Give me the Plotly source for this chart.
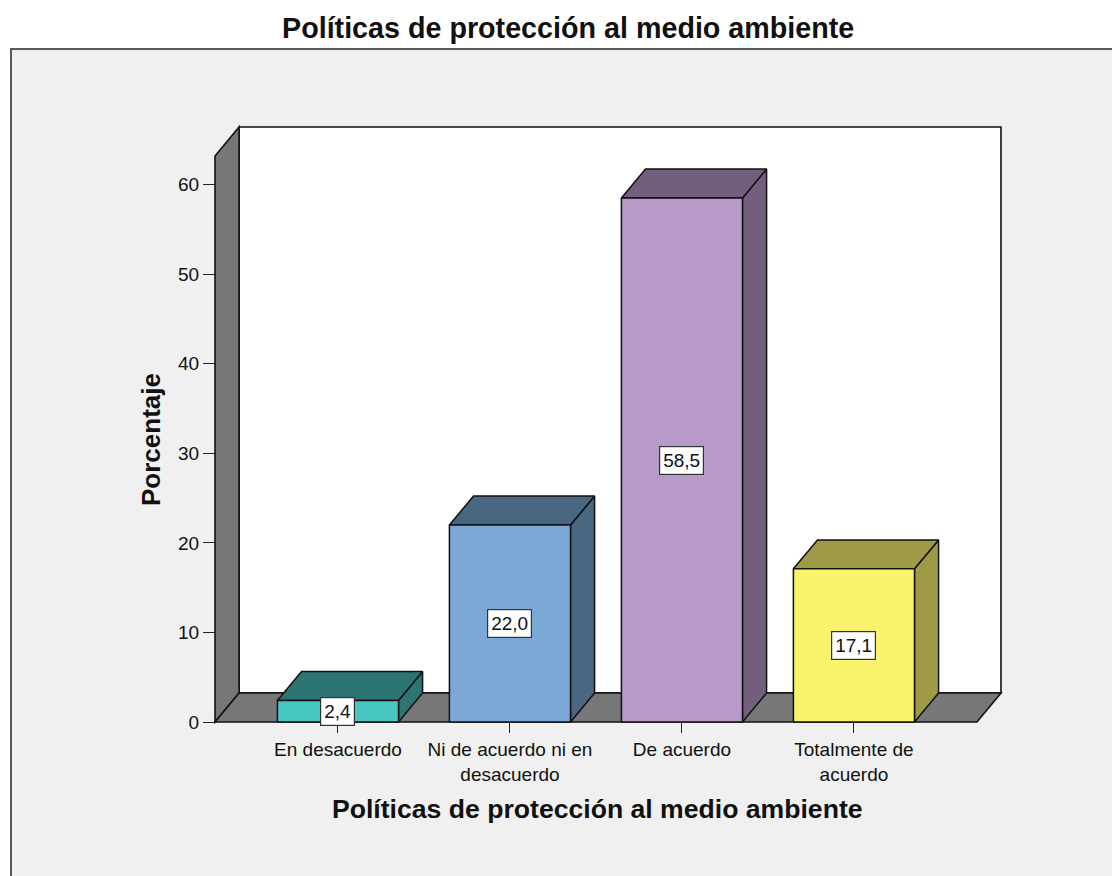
import plotly.graph_objects as go

# ---------------- data ----------------
categories = ["En desacuerdo", "Ni de acuerdo ni en<br>desacuerdo", "De acuerdo", "Totalmente de<br>acuerdo"]
percentages = [2.4, 22.0, 58.5, 17.1]
value_labels = ["2,4", "22,0", "58,5", "17,1"]
front_colors = ["#48c6c4", "#7ba8d7", "#b89ac9", "#f9f36e"]
dark_colors = ["#2c7573", "#4a6782", "#735f7d", "#9e9a46"]
y_ticks = [0, 10, 20, 30, 40, 50, 60]

title_text = "Políticas de protección al medio ambiente"
x_title = "Políticas de protección al medio ambiente"
y_title = "Porcentaje"

# ---------------- geometry (data units) ----------------
X0, X1 = -0.715, 3.715      # front floor edge
YMAX = 63.2                 # front top of side wall
DX, DY = 0.14, 3.23         # 3D depth offset
HW = 0.352                  # half bar width

# pixel frame of the plot
W, H = 1112, 876
FRONT_L_PX, BACK_R_PX = 215, 1001
ZERO_PX, BACK_T_PX = 722, 127
PAD = 4
sx = (BACK_R_PX - FRONT_L_PX) / ((X1 + DX) - X0)
sy = (ZERO_PX - BACK_T_PX) / (YMAX + DY)
ml = FRONT_L_PX - PAD
mr = W - (BACK_R_PX + PAD)
mt = BACK_T_PX - PAD
mb = H - (ZERO_PX + PAD)
pw = W - ml - mr
ph = H - mt - mb
xr = [X0 - PAD / sx, X1 + DX + PAD / sx]
yr = [-PAD / sy, YMAX + DY + PAD / sy]


def px_x(px):
    return (px - ml) / pw


def px_y(py):
    return (H - mb - py) / ph


FONT = "Liberation Sans, Arial, sans-serif"
OUT = "#111111"
GRAY = "#777777"

fig = go.Figure()

shapes = []
# frame
shapes.append(dict(type="rect", xref="paper", yref="paper",
                   x0=px_x(11), x1=px_x(1140), y0=px_y(49), y1=px_y(900),
                   fillcolor="#f0f0f0", line=dict(color="#5a5a5a", width=2), layer="below"))


def poly(pts):
    return "M " + " L ".join(f"{x},{y}" for x, y in pts) + " Z"


# back wall
shapes.append(dict(type="path", xref="x", yref="y", layer="below",
                   path=poly([(X0 + DX, DY), (X1 + DX, DY), (X1 + DX, YMAX + DY), (X0 + DX, YMAX + DY)]),
                   fillcolor="white", line=dict(color=OUT, width=1.6)))
# side wall
shapes.append(dict(type="path", xref="x", yref="y", layer="below",
                   path=poly([(X0, 0), (X0, YMAX), (X0 + DX, YMAX + DY), (X0 + DX, DY)]),
                   fillcolor=GRAY, line=dict(color=OUT, width=1.6)))
# floor
shapes.append(dict(type="path", xref="x", yref="y", layer="below",
                   path=poly([(X0, 0), (X1, 0), (X1 + DX, DY), (X0 + DX, DY)]),
                   fillcolor=GRAY, line=dict(color=OUT, width=1.6)))

# bars
for i, v in enumerate(percentages):
    side = [(i + HW, 0), (i + HW + DX, DY), (i + HW + DX, v + DY), (i + HW, v)]
    top = [(i - HW, v), (i + HW, v), (i + HW + DX, v + DY), (i - HW + DX, v + DY)]
    front = [(i - HW, 0), (i + HW, 0), (i + HW, v), (i - HW, v)]
    for pts, col in ((side, dark_colors[i]), (top, dark_colors[i]), (front, front_colors[i])):
        xs = [p[0] for p in pts] + [pts[0][0]]
        ys = [p[1] for p in pts] + [pts[0][1]]
        fig.add_trace(go.Scatter(x=xs, y=ys, mode="lines", fill="toself", fillcolor=col,
                                 line=dict(color=OUT, width=1.5), hoverinfo="skip", showlegend=False))

annotations = []
for i, v in enumerate(percentages):
    annotations.append(dict(x=i, y=v / 2, xref="x", yref="y", text=value_labels[i], showarrow=False,
                            font=dict(family=FONT, size=19, color="#111111"),
                            bgcolor="white", bordercolor="#333333", borderwidth=1.2, borderpad=3))

annotations.append(dict(x=px_x(568), y=px_y(28), xref="paper", yref="paper", text=title_text,
                        showarrow=False, xanchor="center", yanchor="middle",
                        font=dict(family=FONT, size=28.7, color="#111111", weight="bold")))
annotations.append(dict(x=px_x(597), y=px_y(809), xref="paper", yref="paper", text=x_title,
                        showarrow=False, xanchor="center", yanchor="middle",
                        font=dict(family=FONT, size=26.6, color="#111111", weight="bold")))
annotations.append(dict(x=px_x(151), y=px_y(440), xref="paper", yref="paper", text=y_title,
                        showarrow=False, xanchor="center", yanchor="middle", textangle=-90,
                        font=dict(family=FONT, size=26, color="#111111", weight="bold")))

fig.update_layout(
    width=W, height=H,
    margin=dict(l=ml, r=mr, t=mt, b=mb, pad=0),
    paper_bgcolor="white", plot_bgcolor="rgba(0,0,0,0)",
    shapes=shapes, annotations=annotations, showlegend=False,
    xaxis=dict(range=xr, anchor="free", position=PAD / ph, showgrid=False, zeroline=False,
               showline=False, tickmode="array", tickvals=list(range(len(categories))),
               ticktext=categories, ticks="outside", ticklen=10, tickwidth=1.3, tickcolor="#222222",
               tickfont=dict(family=FONT, size=19, color="#111111"), fixedrange=True),
    yaxis=dict(range=yr, anchor="free", position=PAD / pw, showgrid=False, zeroline=False,
               showline=False, tickmode="array", tickvals=y_ticks, ticks="outside", ticklen=12,
               tickwidth=1.3, tickcolor="#222222",
               tickfont=dict(family=FONT, size=19, color="#111111"), fixedrange=True),
)

fig.write_html("out.html")
